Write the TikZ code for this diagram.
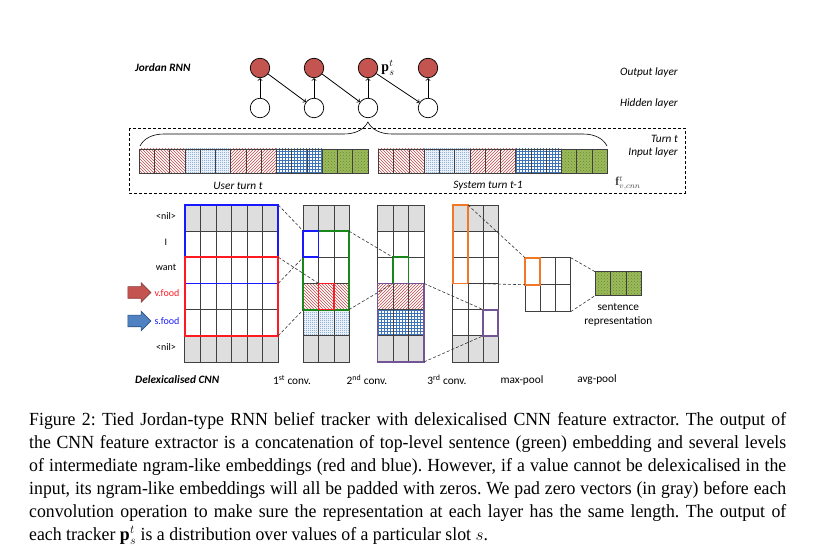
\documentclass[tikz,border=0pt]{standalone}
\usepackage{fontspec}
\setmainfont{Liberation Serif}[FakeStretch=0.96]
\setsansfont{Carlito}
\usetikzlibrary{positioning,arrows,shapes,fit,patterns,decorations.pathreplacing}
\usepackage{amsmath}
\usepackage{bm}

\definecolor{outred}{RGB}{196,84,80}
\definecolor{featred}{RGB}{200,70,70}
\definecolor{featblue}{RGB}{60,115,185}
\definecolor{featgreen}{RGB}{155,187,89}
\definecolor{boxblue}{RGB}{25,25,255}
\definecolor{boxred}{RGB}{255,25,35}
\definecolor{boxgreen}{RGB}{25,135,25}
\definecolor{boxpurple}{RGB}{115,85,150}
\definecolor{boxorange}{RGB}{240,120,40}

\pgfdeclarepatternformonly{finechecker}{\pgfpointorigin}{\pgfqpoint{2pt}{2pt}}{\pgfqpoint{2pt}{2pt}}
{\pgfpathrectangle{\pgfpointorigin}{\pgfqpoint{1pt}{1pt}}\pgfpathrectangle{\pgfqpoint{1pt}{1pt}}{\pgfqpoint{1pt}{1pt}}\pgfusepath{fill}}

\begin{document}
\begin{tikzpicture}
            [x=1pt, y=-1pt, font=\sffamily\fontsize{11.3}{13}\selectfont,
            outnode/.style={circle, draw=black, fill=outred, minimum size=19.5pt, inner sep=0pt, line width=0.7pt},
            hidnode/.style={circle, draw=black, fill=white, minimum size=19.5pt, inner sep=0pt, line width=0.7pt},
            rnnedge/.style={->, >=to, line width=0.8pt},
            layerlabel/.style={font=\sffamily\itshape\fontsize{11.3}{13}\selectfont, anchor=east, inner sep=0pt},
            titlelabel/.style={font=\sffamily\bfseries\itshape\fontsize{11.3}{13}\selectfont, anchor=west, inner sep=0pt},
            rowlabel/.style={font=\sffamily\fontsize{10}{12}\selectfont, inner sep=0pt},
            cell/.style={draw=black!75, line width=0.5pt},
            nilcell/.style={cell, fill=black!13},
            plaincell/.style={cell, fill=white},
            redA/.style={cell, pattern=north west lines, pattern color=featred},
            redB/.style={cell, pattern=north east lines, pattern color=featred},
            blueA/.style={cell, pattern=finechecker, pattern color=featblue!85},
            blueB/.style={cell, pattern=grid, pattern color=featblue},
            greenA/.style={cell, preaction={fill=featgreen}, pattern=crosshatch dots, pattern color=featgreen!70!black},
            hlbox/.style={draw, line width=1.8pt, inner sep=0pt, outer sep=0pt},
            frame/.style={inner sep=0pt, outer sep=0pt},
            link/.style={dashed, dash pattern=on 3pt off 2pt, line width=0.6pt, black!80},
            tokarrow/.style={single arrow, minimum height=23pt, minimum width=19pt, single arrow head extend=4pt, inner sep=5.5pt, outer sep=0pt, line width=0.6pt}]
            \useasboundingbox (0,0) rectangle (817,553);

            % Jordan RNN
            \node [titlelabel] (jordan) at (135,68) {Jordan RNN};
            \node [outnode] (out1) at (260,68) {};
            \node [outnode] (out2) at (314,68) {};
            \node [outnode] (out3) at (368,68) {};
            \node [outnode] (out4) at (428,68) {};
            \node [hidnode] (hid1) at (260,108) {};
            \node [hidnode] (hid2) at (314,108) {};
            \node [hidnode] (hid3) at (368,108) {};
            \node [hidnode] (hid4) at (428,108) {};
            \node [right=3pt of out3, inner sep=0pt, font=\Large] (pst) {$\mathbf{p}_s^t$};
            \foreach \i in {1,...,4}
                \draw [rnnedge] (hid\i) -- (out\i);
            \draw [rnnedge] (out1) -- (hid2);
            \draw [rnnedge] (out2) -- (hid3);
            \draw [rnnedge] (out3) -- (hid4);
            \node [layerlabel] (outlayer) at (678,72) {Output layer};
            \node [layerlabel] (hidlayer) at (678,103) {Hidden layer};

            % turn t input layer
            \draw [dashed, dash pattern=on 3pt off 2pt, line width=0.6pt] (129,128) rectangle (685,193);
            \node [layerlabel] (turnt) at (678,139) {Turn t};
            \node [layerlabel] (inlayer) at (678,152) {Input layer};
            \coordinate (braceL) at (140,146);
            \coordinate (braceR) at (607,146);
            \draw [line width=0.6pt, decorate, decoration={brace, amplitude=24pt, aspect=0.488}] (braceL) -- (braceR);
            \foreach \x in {139,378.25} {
                \foreach \g/\sty in {0/redA,1/blueA,2/redB,3/blueB,4/greenA}
                    \foreach \c in {0,1,2}
                        \draw [\sty] ({\x+(3*\g+\c)*15.25},149) rectangle ++(15.25,24);
            }
            \node [font=\sffamily\itshape\fontsize{11.3}{13}\selectfont] (userturn) at (238,186) {User turn t};
            \node [font=\sffamily\itshape\fontsize{11.3}{13}\selectfont] (systurn) at (488,186) {System turn t-1};
            \node [text=black!75, font=\large, inner sep=0pt] (fvcnn) at (628,183) {$\mathbf{f}^t_{v,cnn}$};

            % delexicalised CNN: input
            \foreach \r/\sty in {0/nilcell,1/plaincell,2/plaincell,3/plaincell,4/plaincell,5/nilcell}
                \foreach \c in {0,...,5}
                    \draw [\sty] ({184.7+\c*15.6},{205+\r*26.15}) rectangle ++(15.6,26.15);
            % 1st conv
            \foreach \r/\sty in {0/nilcell,1/plaincell,2/plaincell,3/redA,4/blueA,5/nilcell}
                \foreach \c in {0,1,2}
                    \draw [\sty] ({303.3+\c*15.23},{205+\r*26.15}) rectangle ++(15.23,26.15);
            % 2nd conv
            \foreach \r/\sty in {0/nilcell,1/plaincell,2/plaincell,3/redB,4/blueB,5/nilcell}
                \foreach \c in {0,1,2}
                    \draw [\sty] ({377.5+\c*15.5},{205+\r*26.15}) rectangle ++(15.5,26.15);
            % 3rd conv
            \foreach \r/\sty in {0/nilcell,1/plaincell,2/plaincell,3/plaincell,4/plaincell,5/nilcell}
                \foreach \c in {0,1,2}
                    \draw [\sty] ({452.7+\c*15.2},{205+\r*26.15}) rectangle ++(15.2,26.15);
            % max-pool and avg-pool
            \foreach \r in {0,1}
                \foreach \c in {0,1,2}
                    \draw [plaincell] ({525+\c*15.23},{257.7+\r*27}) rectangle ++(15.23,27);
            \foreach \c in {0,1,2}
                \draw [greenA] ({595+\c*15.57},271.7) rectangle ++(15.57,24);
            \node [frame, minimum width=45.7pt, minimum height=54pt] (maxpool) at (547.85,284.7) {};
            \node [frame, minimum width=46.7pt, minimum height=24pt] (sentrep) at (618.35,283.7) {};

            % highlighted windows
            \node [hlbox, draw=boxblue, minimum width=93.6pt, minimum height=78.45pt] (inblue) at (231.5,244.2) {};
            \node [hlbox, draw=boxred, minimum width=93.6pt, minimum height=78.45pt] (inred) at (231.5,296.5) {};
            \node [hlbox, draw=boxgreen, minimum width=45.7pt, minimum height=78.45pt] (cagreen) at (326.15,270.4) {};
            \node [hlbox, draw=boxblue, minimum width=15.23pt, minimum height=26.15pt] (cablue) at (310.9,244.2) {};
            \node [hlbox, draw=boxred, minimum width=15.23pt, minimum height=26.15pt] (cared) at (326.15,296.5) {};
            \node [hlbox, draw=boxgreen, minimum width=15.5pt, minimum height=26.15pt] (cbgreen) at (400.75,270.4) {};
            \node [hlbox, draw=boxpurple, minimum width=46.5pt, minimum height=78.45pt] (cbpurple) at (400.75,322.7) {};
            \node [hlbox, draw=boxorange, minimum width=15.2pt, minimum height=78.45pt] (ccorange) at (460.3,244.2) {};
            \node [hlbox, draw=boxpurple, minimum width=15.2pt, minimum height=26.15pt] (ccpurple) at (490.7,322.7) {};
            \node [hlbox, draw=boxorange, minimum width=15.23pt, minimum height=27pt] (mporange) at (532.6,271.2) {};

            % window links
            \draw [link] (inblue.north east) -- (cablue.north west);
            \draw [link] (inblue.south east) -- (cablue.south west);
            \draw [link] (inred.north east) -- (cared.north west);
            \draw [link] (inred.south east) -- (cagreen.south west);
            \draw [link] (cagreen.north east) -- (cbgreen.north west);
            \draw [link] (cagreen.south east) -- (cbgreen.south west);
            \draw [link] (cbpurple.north east) -- (ccpurple.north west);
            \draw [link] (cbpurple.south east) -- (ccpurple.south west);
            \draw [link] (ccorange.north east) -- (mporange.north west);
            \draw [link] (ccorange.south east) -- (mporange.south west);
            \draw [link] (maxpool.north east) -- (sentrep.north west);
            \draw [link] (maxpool.south east) -- (sentrep.south west);

            % words
            \node [rowlabel] (nil1) at (166,216) {<nil>};
            \node [rowlabel] (wordI) at (166,242) {I};
            \node [rowlabel] (want) at (166,267) {want};
            \node [rowlabel, text=boxred] (vfood) at (167,293) {v.food};
            \node [rowlabel, text=boxblue] (sfood) at (167,321) {s.food};
            \node [rowlabel] (nil2) at (166,347) {<nil>};
            \node [tokarrow, draw=outred!70!black, fill=outred] (varrow) at (136.5,292.5) {};
            \node [tokarrow, draw=featblue!70!black, fill=featblue!90] (sarrow) at (136.5,321) {};
            \node [align=center, inner sep=0pt, font=\sffamily\fontsize{11.3}{13.4}\selectfont] (sentlabel) at (618.3,315) {sentence\\representation};

            % bottom labels
            \node [titlelabel] (delex) at (135,380) {Delexicalised CNN};
            \node (conv1) at (292,380) {1\textsuperscript{st} conv.};
            \node (conv2) at (367,380) {2\textsuperscript{nd} conv.};
            \node (conv3) at (447,380) {3\textsuperscript{rd} conv.};
            \node (maxlabel) at (522,380) {max-pool};
            \node (avglabel) at (597,380) {avg-pool};

            % caption
            \node [anchor=north west, inner sep=0pt, text width=757pt, align=justify,
                   font=\rmfamily\fontsize{18.5}{23}\selectfont] (caption) at (29,412)
                {\frenchspacing Figure 2: Tied Jordan-type RNN belief tracker with delexicalised CNN feature extractor. The output of\linebreak
                the CNN feature extractor is a concatenation of top-level sentence (green) embedding and several levels\linebreak
                of intermediate ngram-like embeddings (red and blue). However, if a value cannot be delexicalised in the\linebreak
                input, its ngram-like embeddings will all be padded with zeros. We pad zero vectors (in gray) before each\linebreak
                convolution operation to make sure the representation at each layer has the same length. The output of\linebreak
                each tracker $\mathbf{p}^t_s$ is a distribution over values of a particular slot $s$.};
            \end{tikzpicture}
\end{document}
